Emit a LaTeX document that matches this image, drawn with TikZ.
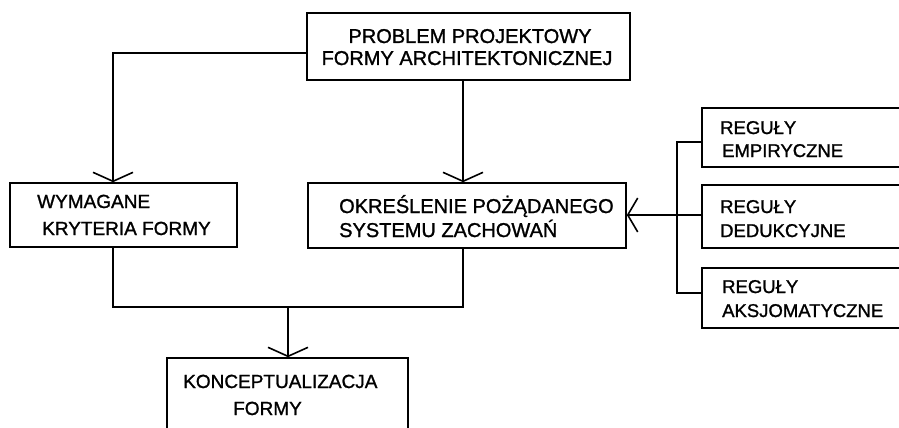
\documentclass[tikz,border=0pt]{standalone}
\usepackage{fontspec}
\setmainfont{Liberation Sans}[UprightFeatures={FakeBold=1.2}]
\usetikzlibrary{arrows.meta}
\begin{document}
\begin{tikzpicture}[x=1pt,y=-1pt,
  box/.style={draw, line width=1.6pt, rectangle, inner sep=0pt},
  lbl/.style={inner sep=0pt, font=\fontsize{19}{22}\selectfont},
  lblw/.style={inner sep=0pt, font=\fontsize{20}{22}\selectfont},
  lblr/.style={inner sep=0pt, font=\fontsize{18.5}{22}\selectfont},
  conn/.style={line width=1.6pt},
  arr/.style={line width=1.6pt, -{Straight Barb[length=9pt,width=40pt,line width=1.6pt]}},
  arrs/.style={line width=1.6pt, -{Straight Barb[length=10pt,width=34pt,line width=1.6pt]}}]
\useasboundingbox (0,0) rectangle (899,428);
\clip (0,0) rectangle (899,428);
\fill[white] (0,0) rectangle (899,428);
% boxes
\node[box, minimum width=323pt, minimum height=67pt] (top) at (468.5,46.5) {};
\node[box, minimum width=227pt, minimum height=64pt] (wym) at (123.5,215) {};
\node[box, minimum width=318pt, minimum height=65pt] (okr) at (467,215.5) {};
\node[box, minimum width=241pt, minimum height=82pt] (konc) at (287.5,399) {};
\node[box, minimum width=210pt, minimum height=59pt] (r1) at (807,137.5) {};
\node[box, minimum width=210pt, minimum height=63pt] (r2) at (807,216.5) {};
\node[box, minimum width=210pt, minimum height=60pt] (r3) at (807,298) {};
% texts
\node[lblw, anchor=base] (t1a) at (470,43) {PROBLEM PROJEKTOWY};
\node[lblw, anchor=base] (t1b) at (467,65) {FORMY ARCHITEKTONICZNEJ};
\node[lbl, anchor=base west] (t2a) at (37,208) {WYMAGANE};
\node[lbl, anchor=base west] (t2b) at (42,235) {KRYTERIA FORMY};
\node[lblw, anchor=base west] (t3a) at (339,213) {OKREŚLENIE POŻĄDANEGO};
\node[lblw, anchor=base west] (t3b) at (339,237) {SYSTEMU ZACHOWAŃ};
\node[lbl, anchor=base west] (t4a) at (183,388) {KONCEPTUALIZACJA};
\node[lbl, anchor=base west] (t4b) at (233,415) {FORMY};
\node[lblr, anchor=base west] (t5a) at (720,134) {REGUŁY};
\node[lblr, anchor=base west] (t5b) at (722,157) {EMPIRYCZNE};
\node[lblr, anchor=base west] (t6a) at (720,213) {REGUŁY};
\node[lblr, anchor=base west] (t6b) at (720,237) {DEDUKCYJNE};
\node[lblr, anchor=base west] (t7a) at (722,293) {REGUŁY};
\node[lblr, anchor=base west] (t7b) at (722,317) {AKSJOMATYCZNE};
% connectors
\coordinate (jl) at (113,307);
\coordinate (jr) at (463,307);
\coordinate (jm) at (288,307);
\coordinate (vx) at (677,215);
\draw[arr] (top.west |- 0,53) -| (wym.north -| 113,0);
\draw[arr] (top.south -| 463,0) -- (okr.north -| 463,0);
\draw[conn] (wym.south -| 113,0) -- (jl) -- (jr) -- (okr.south -| 463,0);
\draw[arr] (jm) -- (konc.north -| 288,0);
\draw[arrs] (vx) -- (okr.east |- vx);
\draw[conn] (r1.west |- 0,142) -| (677,142) -- (677,293) -- (r3.west |- 0,293);
\draw[conn] (vx) -- (r2.west |- vx);
\end{tikzpicture}
\end{document}
